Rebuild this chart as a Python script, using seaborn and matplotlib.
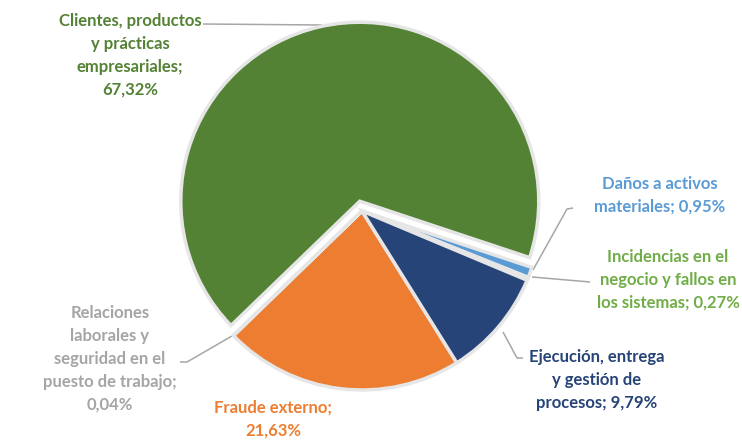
import numpy as np
import matplotlib
matplotlib.use("Agg")
import matplotlib.pyplot as plt
import seaborn as sns

# ---- data ----
categories = ["Fraude externo",
              "Relaciones\nlaborales y\nseguridad en el\npuesto de trabajo",
              "Clientes, productos\ny prácticas\nempresariales",
              "Daños a activos\nmateriales",
              "Incidencias en el\nnegocio y fallos en\nlos sistemas",
              "Ejecución, entrega\ny gestión de\nprocesos"]
values = [21.63, 0.04, 67.32, 0.95, 0.27, 9.79]
value_labels = ["21,63%", "0,04%", "67,32%", "0,95%", "0,27%", "9,79%"]
colors = ["#ED7D31", "#A5A5A5", "#548235", "#5B9BD5", "#70AD47", "#264478"]
label_colors = ["#ED7D31", "#A5A5A5", "#548235", "#5B9BD5", "#70AD47", "#264478"]

sns.set_theme(style="white")
plt.rcParams['font.family'] = ['Lato', 'DejaVu Sans']

W, H = 742, 440
fig = plt.figure(figsize=(W / 100, H / 100), dpi=100)
ax = fig.add_axes([0, 0, 1, 1])

cx, cy, R = 362, H - 211, 179
explode = [0, 0, 0.056 * R, 0, 0, 0]   # explode in data units
wedges, _ = ax.pie(values, colors=colors, startangle=-58, counterclock=False,
                   center=(cx, cy), radius=R, explode=explode,
                   wedgeprops=dict(edgecolor="#E6E6E6", linewidth=2.5))
ax.set_xlim(0, W)
ax.set_ylim(0, H)
ax.set_aspect("equal")
ax.axis("off")

# label layout (pixel coords, y down): text centre x, top y
label_pos = [(273, 400),
             (110, 305),
             (130, 13),
             (660, 176),
             (668, 249),
             (597, 349)]

def lab_text(i):
    name = categories[i]
    if i in (3, 4, 5):
        return name + "; " + value_labels[i]
    return name + ";\n" + value_labels[i]

for i, (x, y) in enumerate(label_pos):
    ax.text(x, H - y, lab_text(i), ha="center", va="top", color=label_colors[i],
            fontsize=12, fontweight="bold", linespacing=1.53)

# leader lines (pixel coords, y down)
leaders = {
    2: [(203, 24), (322, 25)],
    3: [(573, 208), (567, 209), (533, 270)],
    4: [(532, 277), (590, 282)],
    5: [(503, 332), (517, 358), (523, 358)],
    1: [(180, 362), (187, 362), (232, 336)],
}
for i, pts in leaders.items():
    xs = [p[0] for p in pts]
    ys = [H - p[1] for p in pts]
    ax.plot(xs, ys, color="#A6A6A6", lw=1.1, solid_capstyle="butt", zorder=0)

fig.savefig("out.png", dpi=100, facecolor="white")
